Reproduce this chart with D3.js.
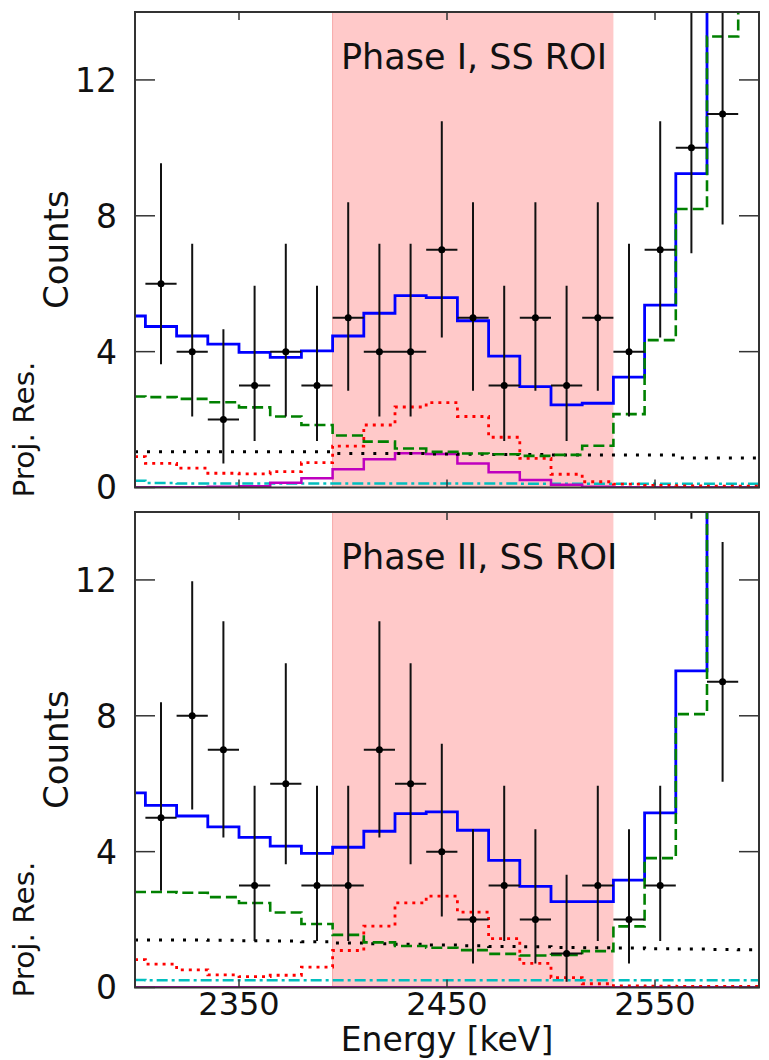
<!DOCTYPE html>
<html>
<head>
<meta charset="utf-8">
<script src="https://cdn.jsdelivr.net/npm/d3@7"></script>
<style>
  body { margin: 0; background: #fff; }
  svg { display: block; font-family: "DejaVu Sans", sans-serif; }
</style>
</head>
<body>
<svg id="chart" width="769" height="1060"></svg>
<script>
// histogram bin edges of the fit model [keV]
const binEdges = [2300, 2305, 2320, 2335, 2350, 2365, 2380, 2395, 2410, 2425, 2440,
  2455, 2470, 2485, 2500, 2515, 2530, 2545, 2560, 2575, 2590, 2600]

// data bin centres [keV] (bins are 15 keV wide)
const dataEnergy = [2312.5, 2327.5, 2342.5, 2357.5, 2372.5, 2387.5, 2402.5, 2417.5, 2432.5,
  2447.5, 2462.5, 2477.5, 2492.5, 2507.5, 2522.5, 2537.5, 2552.5, 2567.5, 2582.5]

const countsPhase1 = [6, 4, 2, 3, 4, 3, 5, 4, 4, 7, 5, 3, 5, 3, 5, 4, 7, 10, 11]
const countsPhase2 = [5, 8, 7, 3, 6, 3, 3, 7, 6, 4, 2, 3, 2, 1, 3, 2, 3, 18, 9]

// poisson error band, per count level
const countLevels = [1, 2, 3, 4, 5, 6, 7, 8, 9, 10, 11, 18]
const errLow = [0.17, 0.71, 1.37, 2.09, 2.85, 3.63, 4.42, 5.24, 6.06, 6.90, 7.74, 13.80]
const errHigh = [3.32, 4.66, 5.94, 7.18, 8.40, 9.55, 10.78, 11.96, 13.12, 14.28, 15.43, 23.33]

// Phase I model components (one value per model bin)
const totalPhase1 = [5.05, 4.74, 4.46, 4.22, 3.98, 3.83, 4.02, 4.46, 5.13, 5.65, 5.59,
  4.91, 3.87, 2.97, 2.43, 2.48, 3.25, 5.37, 9.24, 20, 30]
const greenPhase1 = [2.68, 2.66, 2.61, 2.51, 2.36, 2.09, 1.84, 1.53, 1.35, 1.15, 1.05,
  1.0, 0.98, 0.93, 0.96, 1.23, 2.16, 4.34, 8.2, 13.28, 20]
const redPhase1 = [0.91, 0.71, 0.57, 0.42, 0.40, 0.47, 0.73, 1.22, 1.84, 2.37, 2.50,
  2.09, 1.48, 0.86, 0.39, 0.17, 0.10, 0.06, 0.05, 0.04, 0.04]
const flatPhase1 = [1.05, 1.05, 1.05, 1.05, 1.05, 1.05, 1.05, 1.0, 1.0, 1.0, 0.99,
  0.98, 0.97, 0.97, 0.96, 0.96, 0.96, 0.96, 0.87, 0.87, 0.87]
const signalPhase1 = [0.01, 0.01, 0.01, 0.02, 0.04, 0.14, 0.27, 0.54, 0.83, 1.01, 0.99,
  0.71, 0.45, 0.22, 0.08, 0.02, 0.01, 0.01, 0.01, 0.01, 0.01]
const cyanPhase1 = [0.20, 0.13, 0.12, 0.12, 0.12, 0.12, 0.12, 0.12, 0.12, 0.12, 0.12,
  0.12, 0.12, 0.11, 0.11, 0.11, 0.11, 0.11, 0.11, 0.11, 0.11]

// Phase II model components
const totalPhase2 = [5.73, 5.36, 5.05, 4.73, 4.42, 4.16, 3.95, 4.13, 4.60, 5.12, 5.17,
  4.63, 3.74, 2.98, 2.53, 2.53, 3.16, 5.14, 9.32, 20, 30]
const greenPhase2 = [2.81, 2.81, 2.79, 2.66, 2.49, 2.21, 1.87, 1.55, 1.33, 1.22, 1.17,
  1.10, 0.99, 0.94, 0.96, 1.07, 1.80, 3.81, 8.05, 20, 30]
const redPhase2 = [0.82, 0.69, 0.52, 0.37, 0.32, 0.36, 0.60, 1.09, 1.81, 2.49, 2.69,
  2.22, 1.44, 0.71, 0.29, 0.11, 0.05, 0.04, 0.03, 0.03, 0.03]
const flatPhase2 = [1.40, 1.40, 1.40, 1.39, 1.38, 1.37, 1.35, 1.31, 1.29, 1.27, 1.25,
  1.23, 1.21, 1.20, 1.18, 1.17, 1.16, 1.14, 1.13, 1.12, 1.11]
const signalPhase2 = [0.01, 0.01, 0.01, 0.01, 0.01, 0.01, 0.01, 0.01, 0.01, 0.01, 0.01,
  0.01, 0.01, 0.01, 0.01, 0.01, 0.01, 0.01, 0.01, 0.01, 0.01]
const cyanPhase2 = [0.22, 0.21, 0.21, 0.21, 0.21, 0.21, 0.21, 0.21, 0.21, 0.21, 0.21,
  0.21, 0.21, 0.21, 0.21, 0.21, 0.21, 0.21, 0.21, 0.21, 0.21]

const roi = [2395, 2530]
const xTicks = [2350, 2450, 2550]
const yTicks = [0, 4, 8, 12]

const svg = d3.select("#chart")
const left = 135, right = 759

const x = d3.scaleLinear().domain([2300, 2600]).range([left, right])

const panels = [
  { top: 12, bottom: 487.5, title: "Phase I, SS ROI", counts: countsPhase1,
    total: totalPhase1, green: greenPhase1, red: redPhase1, flat: flatPhase1,
    signal: signalPhase1, cyan: cyanPhase1 },
  { top: 512, bottom: 987.5, title: "Phase II, SS ROI", counts: countsPhase2,
    total: totalPhase2, green: greenPhase2, red: redPhase2, flat: flatPhase2,
    signal: signalPhase2, cyan: cyanPhase2 }
]

const styles = [
  { key: "cyan", color: "#00bfbf", width: 2.5, dash: "11,4,3,4" },
  { key: "signal", color: "#bf00bf", width: 2.5, dash: null },
  { key: "flat", color: "#000", width: 3, dash: "3,9" },
  { key: "red", color: "#ff0000", width: 2.8, dash: "3,5" },
  { key: "total", color: "#0000ff", width: 2.8, dash: null },
  { key: "green", color: "#008000", width: 2.6, dash: "11,5" }
]

panels.forEach((p, pi) => {
  const y = d3.scaleLinear().domain([0, 14]).range([p.bottom, p.top])
  const g = svg.append("g")

  const clipId = "clip" + pi
  svg.append("clipPath").attr("id", clipId)
    .append("rect").attr("x", left).attr("y", p.top)
    .attr("width", right - left).attr("height", p.bottom - p.top)

  // ROI band
  g.append("rect")
    .attr("x", x(roi[0])).attr("y", p.top)
    .attr("width", x(roi[1]) - x(roi[0])).attr("height", p.bottom - p.top)
    .attr("fill", "#ffc9c9")
  g.append("line")
    .attr("x1", x(roi[0])).attr("x2", x(roi[0]))
    .attr("y1", p.top).attr("y2", p.bottom)
    .attr("stroke", "#f7a8a8").attr("stroke-width", 1)

  const plot = g.append("g").attr("clip-path", `url(#${clipId})`)

  const line = d3.line()
    .x(d => x(d[0])).y(d => y(d[1]))
    .curve(d3.curveStepAfter)

  styles.forEach(s => {
    const vals = p[s.key]
    const pts = binEdges.map((e, i) => [e, vals[Math.min(i, vals.length - 1)]])
    plot.append("path")
      .attr("d", line(pts))
      .attr("fill", "none")
      .attr("stroke", s.color)
      .attr("stroke-width", s.width)
      .attr("stroke-dasharray", s.dash)
  })

  // data with error bars
  const pts = dataEnergy.map((e, i) => {
    const n = p.counts[i]
    const k = countLevels.indexOf(n)
    return { e, n, lo: errLow[k], hi: errHigh[k] }
  })
  const dg = plot.append("g").attr("stroke", "#111").attr("stroke-width", 2)
  dg.selectAll(".vbar").data(pts).enter().append("line")
    .attr("x1", d => x(d.e)).attr("x2", d => x(d.e))
    .attr("y1", d => y(d.lo)).attr("y2", d => y(d.hi))
  dg.selectAll(".hbar").data(pts).enter().append("line")
    .attr("x1", d => x(d.e - 7.5)).attr("x2", d => x(d.e + 7.5))
    .attr("y1", d => y(d.n)).attr("y2", d => y(d.n))
  plot.selectAll(".dot").data(pts).enter().append("circle")
    .attr("cx", d => x(d.e)).attr("cy", d => y(d.n)).attr("r", 3.5)
    .attr("fill", "#000")

  // ticks (inside, both sides)
  const tk = g.append("g").attr("stroke", "#333").attr("stroke-width", 1.5)
  yTicks.forEach(t => {
    tk.append("line").attr("x1", left).attr("x2", left + 20).attr("y1", y(t)).attr("y2", y(t))
    tk.append("line").attr("x1", right - 20).attr("x2", right).attr("y1", y(t)).attr("y2", y(t))
  })
  xTicks.forEach(t => {
    tk.append("line").attr("x1", x(t)).attr("x2", x(t)).attr("y1", p.top).attr("y2", p.top + 8)
    tk.append("line").attr("x1", x(t)).attr("x2", x(t)).attr("y1", p.bottom - 8).attr("y2", p.bottom)
  })

  // frame
  g.append("rect")
    .attr("x", left).attr("y", p.top)
    .attr("width", right - left).attr("height", p.bottom - p.top)
    .attr("fill", "none").attr("stroke", "#333").attr("stroke-width", 2)

  // y tick labels
  g.selectAll(".ylab").data(yTicks).enter().append("text")
    .attr("x", 117).attr("y", d => y(d)).attr("dy", "0.36em")
    .attr("text-anchor", "end").attr("font-size", 33).attr("fill", "#111")
    .text(d => d)

  // panel title
  g.append("text")
    .attr("x", 341).attr("y", y(12.33))
    .attr("font-size", 35).attr("fill", "#111")
    .text(p.title)

  // axis labels
  g.append("text")
    .attr("transform", `translate(68,${(p.top + p.bottom) / 2}) rotate(-90)`)
    .attr("text-anchor", "middle").attr("font-size", 34).attr("fill", "#111")
    .text("Counts")
  g.append("text")
    .attr("transform", `translate(34,${p.bottom - 58}) rotate(-90)`)
    .attr("text-anchor", "middle").attr("font-size", 29).attr("fill", "#111")
    .attr("textLength", 136).attr("lengthAdjust", "spacingAndGlyphs")
    .text("Proj. Res.")

  if (pi === 1) {
    g.selectAll(".xlab").data(xTicks).enter().append("text")
      .attr("x", d => x(d)).attr("y", 1015)
      .attr("text-anchor", "middle").attr("font-size", 32).attr("fill", "#111")
      .text(d => d)
    g.append("text")
      .attr("x", (left + right) / 2).attr("y", 1051)
      .attr("text-anchor", "middle").attr("font-size", 33).attr("fill", "#111")
      .text("Energy [keV]")
  }
})
</script>
</body>
</html>
